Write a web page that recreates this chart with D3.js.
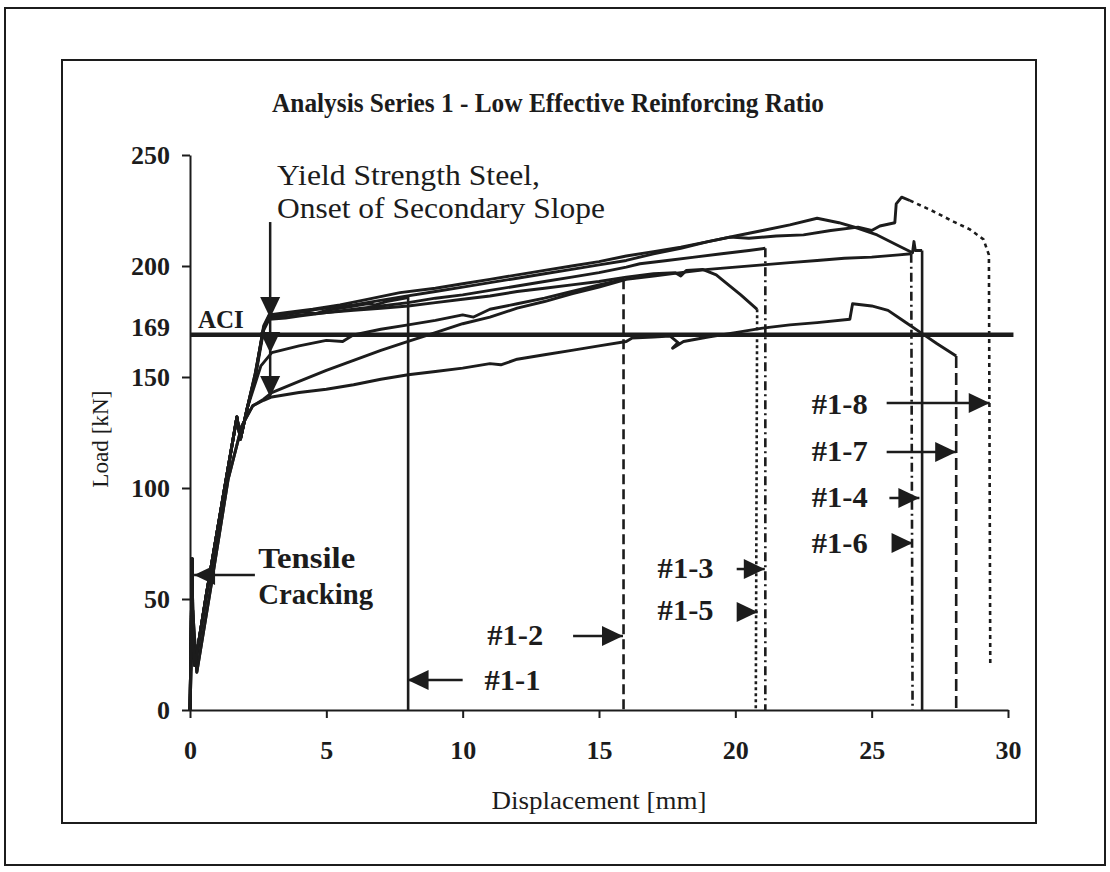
<!DOCTYPE html>
<html>
<head>
<meta charset="utf-8">
<script src="https://cdn.jsdelivr.net/npm/d3@7"></script>
<style>
  body { margin: 0; background: #fff; }
  svg { display: block; font-family: "Liberation Serif", "Times New Roman", Times, serif; }
</style>
</head>
<body>
<svg id="chart" width="1110" height="872"></svg>
<script>
// === Data ===
const xTicks = [0, 5, 10, 15, 20, 25, 30];
const yTicks = [0, 50, 100, 150, 200, 250];
const aciLoad = 169;

// shared elastic branch (two slightly different traces)
const riseA = [[0,0],[0.08,68],[0.11,30],[0.18,20],[0.6,52],[1.2,95],[1.72,132],[1.85,122],[2.1,136]];
const riseB = [[0,0],[0.1,45],[0.25,17],[0.8,58],[1.4,104],[1.9,128],[2.3,137]];

const s11 = riseA.concat([[2.4,152],[2.7,172],[2.9,177],[3.5,178],[4.2,179.5],[4.6,178.5],[5,180],
  [5.8,181.5],[6.5,183],[6.8,182.5],[7.2,184],[7.9,185.5],[8.0,186],[8.0,0]]);
const s12 = riseA.concat([[2.6,155],[3,161],[4,164],[5,166.5],[5.6,166],[6,169],[7,171.5],[8,173.5],
  [9,175.5],[10,178],[10.4,177],[11,180.5],[12,183],[13,185.5],[14,188.5],[15,191.5],[15.9,194],[15.9,0]]);
const s13 = riseA.concat([[2.4,150],[2.7,171],[2.9,176],[3.5,176.5],[4,177.5],[5,179],[6,180.5],[7,182],
  [8,183.5],[9,185.5],[10,187],[11,189],[12,191],[13,193],[14,195],[15,197],[16,199.5],[16.5,201],
  [17.5,202.5],[18.5,204],[19.5,205.5],[20.5,207],[21.1,208],[21.1,0]]);
const s14 = riseA.concat([[2.4,151],[2.7,173],[2.9,178],[3.5,179],[4.5,180.5],[5.5,182.5],[6.5,185],
  [7.7,188],[9,190],[10,192],[11,194],[12,196],[13,198],[14,200],[15,202],[16,204.5],[17,206.5],
  [18,208.5],[19,211],[20,213.5],[21,216],[22,218.5],[23,221.5],[23.8,219.5],[24.5,217],[25.2,214],
  [26,209],[26.5,206],[26.55,211],[26.6,207],[26.85,207],[26.85,0]]);
const s15 = riseA.concat([[2.4,151],[2.7,172],[2.9,177],[3.5,177],[4,178],[5,179],[6,180],[7,181],
  [8,182],[9,183.5],[10,185],[11,186.5],[12,188.5],[13,190],[14,191.5],[15,193],[16,195],[17,196.5],
  [17.8,197],[18,195.5],[18.2,198],[18.8,198.5],[19.3,196],[19.5,194],[20.2,187],[20.8,180.5],[20.75,0]]);
const s16 = riseB.concat([[2.7,140],[3,143],[4,148],[5,153],[6,157.5],[7,162],[8,166],[9,170],[10,174],
  [11,177],[12,181],[13,184],[14,187.5],[15,190.5],[16,194],[17,195.5],[18,197],[19,198.5],[20,199.5],
  [21,200.5],[22,201.5],[23,202.5],[24,203.5],[25,204],[26,205],[26.45,205.5],[26.5,0]]);
const s17 = riseB.concat([[2.7,139.5],[3,141],[3.5,142],[4,143],[5,144.5],[6,146.5],[7,149],[8,151],
  [9,152.5],[10,154],[11,156],[11.4,155.5],[12,158],[13,160],[14,162],[15,164],[16,166],[16.2,167.5],[17,168],
  [17.6,168.5],[17.9,165.5],[17.7,163],[18.1,166],[19,168],[20,170],[21,172],[22,173.5],[23,174.5],
  [24.2,176],[24.3,183],[25,182],[25.6,180],[26.2,175],[26.8,170],[27.4,165],[28.1,159.5],[28.1,0]]);
const s18 = riseA.concat([[2.4,152],[2.7,172],[2.9,177.5],[3.5,178.5],[5,181],[6,182.5],[7.7,186],
  [9,188.5],[10,190.5],[11,192.5],[12,194.5],[13,196.5],[14,198.5],[15,200.5],[16,202.5],[17,205.5],
  [18,208],[19,211],[19.8,213],[20.5,212.5],[21.5,213.5],[22.5,214],[23.5,216],[24.5,217.5],[25,216],
  [25.3,218],[25.85,219.5],[25.9,228],[26.1,231],[26.4,229.5],[27.2,225],[28,220],[28.6,216.5],
  [29.1,212],[29.3,205],[29.35,20]]);

const seriesNames = ["#1-1", "#1-2", "#1-3", "#1-4", "#1-5", "#1-6", "#1-7", "#1-8"];
const seriesData = [s11, s12, s13, s14, s15, s16, s17, s18];

// label position (data units): text x, text baseline, arrow y, arrow start x, arrow tip x
const labelX = [10.8, 10.9, 17.15, 22.8, 17.15, 22.8, 22.8, 22.8];
const labelY = [9, 29.3, 59.5, 91.4, 40.5, 70.7, 112.2, 133.3];
const arrowY = [13.5, 33.3, 63.5, 95.5, 44.1, 75.2, 116.2, 138.3];
const arrowFrom = [10.0, 14.05, 20.05, 25.65, 20.1, 25.75, 25.55, 25.55];
const arrowTo = [7.98, 15.88, 21.08, 26.75, 20.82, 26.5, 28.1, 29.33];

// === Styles ===
const dashes = [null, "10,5", "9,4,2,4", null, "3,3", "9,4,2,4", "12,5", "4,4"];
const tailCount = [2, 2, 2, 2, 2, 2, 2, 7];
const ink = "#1c1c1c";

const svg = d3.select("#chart");

// frames
svg.append("rect").attr("x", 5).attr("y", 8).attr("width", 1100).attr("height", 857)
  .attr("fill", "none").attr("stroke", ink).attr("stroke-width", 2);
svg.append("rect").attr("x", 62).attr("y", 60).attr("width", 974).attr("height", 763)
  .attr("fill", "none").attr("stroke", ink).attr("stroke-width", 2);

const x = d3.scaleLinear().domain([0, 30]).range([190, 1008]);
const y = d3.scaleLinear().domain([0, 250]).range([710, 155]);

// title
svg.append("text").attr("x", 548).attr("y", 112).attr("text-anchor", "middle")
  .attr("font-size", 27).attr("font-weight", "bold").attr("fill", ink)
  .attr("textLength", 552).attr("lengthAdjust", "spacingAndGlyphs")
  .text("Analysis Series 1 - Low Effective Reinforcing Ratio");

// axes
const xAxis = svg.append("g").attr("transform", `translate(0,${y(0)})`)
  .call(d3.axisBottom(x).tickValues(xTicks).tickSize(8).tickSizeOuter(0).tickPadding(23));
const yAxis = svg.append("g").attr("transform", `translate(${x(0)},0)`)
  .call(d3.axisLeft(y).tickValues(yTicks).tickSize(8).tickSizeOuter(0).tickPadding(12));
[xAxis, yAxis].forEach(g => {
  g.attr("font-family", null);
  g.selectAll("path, line").attr("stroke", ink).attr("stroke-width", 2);
  g.selectAll("text").attr("font-size", 26).attr("font-weight", "bold").attr("fill", ink);
});

svg.append("text").attr("x", x(0) - 20).attr("y", y(172)).attr("dy", "0.32em")
  .attr("text-anchor", "end").attr("font-size", 26).attr("font-weight", "bold").attr("fill", ink)
  .text(aciLoad);

// axis titles
svg.append("text").attr("x", x(15)).attr("y", 809).attr("text-anchor", "middle")
  .attr("font-size", 25).attr("fill", ink)
  .attr("textLength", 215).attr("lengthAdjust", "spacingAndGlyphs")
  .text("Displacement [mm]");
svg.append("text").attr("transform", `translate(108,${y(122)}) rotate(-90)`)
  .attr("text-anchor", "middle").attr("font-size", 23).attr("fill", ink)
  .attr("textLength", 97).attr("lengthAdjust", "spacingAndGlyphs")
  .text("Load [kN]");

// curves
const line = d3.line().x(d => x(d[0])).y(d => y(d[1]));
const curves = svg.append("g").attr("fill", "none").attr("stroke", ink)
  .attr("stroke-linejoin", "round");
seriesData.forEach((pts, i) => {
  const cut = pts.length - tailCount[i];
  curves.append("path").attr("d", line(pts.slice(0, cut + 1)))
    .attr("stroke-width", 2.9);
  curves.append("path").attr("d", line(pts.slice(cut)))
    .attr("stroke-width", 2.6)
    .attr("stroke-dasharray", dashes[i]);
});

// ACI line
svg.append("line").attr("x1", x(0)).attr("x2", x(30.2))
  .attr("y1", y(aciLoad)).attr("y2", y(aciLoad))
  .attr("stroke", ink).attr("stroke-width", 4.5);
svg.append("text").attr("x", x(0.29)).attr("y", y(172))
  .attr("font-size", 25).attr("font-weight", "bold").attr("fill", ink).text("ACI");

// arrow helper (pixel space)
function arrowHead(tx, ty, dir) {
  const L = 21, W = 10;
  let pts;
  if (dir === "left") pts = [[tx, ty], [tx + L, ty - W], [tx + L, ty + W]];
  else if (dir === "right") pts = [[tx, ty], [tx - L, ty - W], [tx - L, ty + W]];
  else pts = [[tx, ty], [tx - W, ty - L], [tx + W, ty - L]];
  svg.append("path").attr("d", "M" + pts.join("L") + "Z").attr("fill", ink);
}

// series labels with arrows
seriesNames.forEach((name, i) => {
  svg.append("text").attr("x", x(labelX[i])).attr("y", y(labelY[i]))
    .attr("font-size", 29).attr("font-weight", "bold").attr("fill", ink)
    .attr("textLength", 56).attr("lengthAdjust", "spacingAndGlyphs")
    .text(name);
  const ay = y(arrowY[i]);
  svg.append("line").attr("x1", x(arrowFrom[i])).attr("x2", x(arrowTo[i]))
    .attr("y1", ay).attr("y2", ay).attr("stroke", ink).attr("stroke-width", 2.5);
  arrowHead(x(arrowTo[i]), ay, arrowTo[i] < arrowFrom[i] ? "left" : "right");
});

// yield annotation
const yieldX = 2.94;
const yieldTips = [176.6, 160.8, 141];
svg.append("line").attr("x1", x(yieldX)).attr("x2", x(yieldX))
  .attr("y1", y(219.8)).attr("y2", y(141)).attr("stroke", ink).attr("stroke-width", 2.5);
yieldTips.forEach(v => arrowHead(x(yieldX), y(v), "down"));
svg.append("text").attr("x", x(3.19)).attr("y", y(236.5))
  .attr("font-size", 29).attr("fill", ink)
  .attr("textLength", 263).attr("lengthAdjust", "spacingAndGlyphs")
  .text("Yield Strength Steel,");
svg.append("text").attr("x", x(3.19)).attr("y", y(221.6))
  .attr("font-size", 29).attr("fill", ink)
  .attr("textLength", 328).attr("lengthAdjust", "spacingAndGlyphs")
  .text("Onset of Secondary Slope");

// tensile cracking annotation
svg.append("line").attr("x1", x(2.38)).attr("x2", x(0.15))
  .attr("y1", y(60.8)).attr("y2", y(60.8)).attr("stroke", ink).attr("stroke-width", 2.5);
arrowHead(x(0.15), y(60.8), "left");
svg.append("text").attr("x", x(2.5)).attr("y", y(64))
  .attr("font-size", 29).attr("font-weight", "bold").attr("fill", ink)
  .attr("textLength", 97).attr("lengthAdjust", "spacingAndGlyphs")
  .text("Tensile");
svg.append("text").attr("x", x(2.5)).attr("y", y(47.7))
  .attr("font-size", 29).attr("font-weight", "bold").attr("fill", ink)
  .attr("textLength", 115).attr("lengthAdjust", "spacingAndGlyphs")
  .text("Cracking");
</script>
</body>
</html>
